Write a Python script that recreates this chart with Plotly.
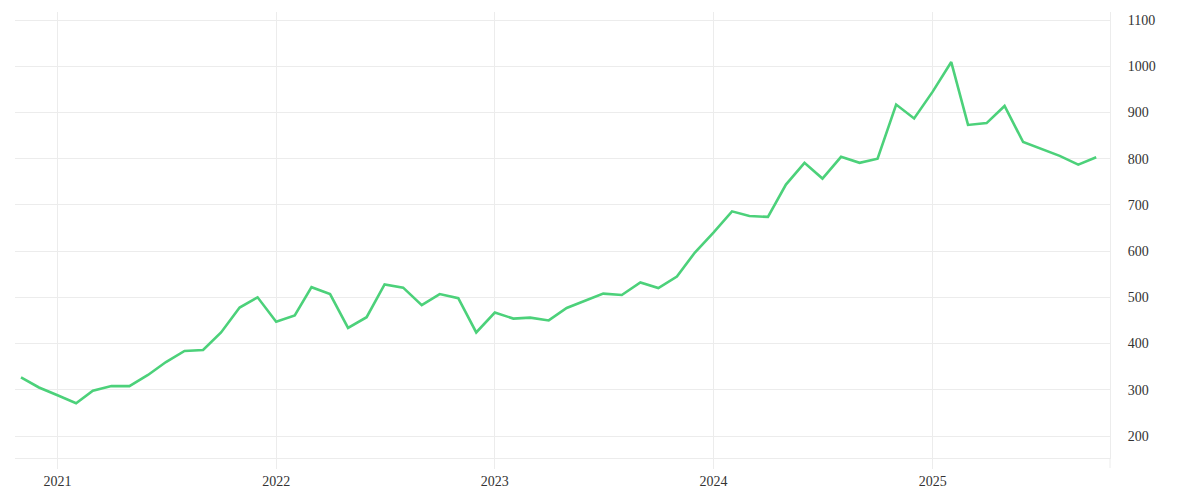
import plotly.graph_objects as go
import pandas as pd

# Monthly values, Nov 2020 - Oct 2025
dates = pd.date_range("2020-11-01", periods=60, freq="MS")
values = [
    327, 305,
    288, 271, 298, 308, 308, 332, 360, 384, 386, 424, 478, 500,
    447, 461, 522, 507, 434, 457, 528, 521, 483, 507, 498, 424,
    467, 454, 456, 450, 477, 492, 508, 505, 532, 520, 545, 597,
    640, 686, 676, 674, 744, 791, 757, 804, 791, 800, 917, 887,
    945, 1009, 873, 877, 914, 836, 821, 806, 787, 803,
]
year_ticks = ["2021-01-01", "2022-01-01", "2023-01-01", "2024-01-01", "2025-01-01"]
year_labels = ["2021", "2022", "2023", "2024", "2025"]
y_ticks = [200, 300, 400, 500, 600, 700, 800, 900, 1000, 1100]

FONT = "Liberation Serif"
GRID = "#ececec"

fig = go.Figure(
    go.Scatter(
        x=dates,
        y=values,
        mode="lines",
        line=dict(color="#4cd17a", width=2.6),
        hoverinfo="skip",
    )
)

# the page body adds an 8px offset, margins compensate for it
fig.update_layout(
    width=1200,
    height=500,
    margin=dict(l=7, r=98, t=4, b=50),
    paper_bgcolor="white",
    plot_bgcolor="white",
    showlegend=False,
    font=dict(family=FONT, size=14, color="#333333"),
    xaxis=dict(
        type="date",
        range=["2020-10-22", "2025-10-24"],
        tickvals=year_ticks,
        ticktext=year_labels,
        showgrid=True,
        gridcolor=GRID,
        gridwidth=1,
        ticks="outside",
        ticklen=10,
        tickcolor=GRID,
        showline=True,
        linecolor=GRID,
        linewidth=1,
        zeroline=False,
        tickfont=dict(family=FONT, size=14, color="#333333"),
    ),
    yaxis=dict(
        side="right",
        range=[152.4, 1117.3],
        tickvals=y_ticks,
        showgrid=True,
        gridcolor=GRID,
        gridwidth=1,
        showline=True,
        linecolor=GRID,
        linewidth=1,
        zeroline=False,
        ticks="",
        ticklabelstandoff=14,
        tickfont=dict(family=FONT, size=14, color="#333333"),
    ),
)

# extend the right border line down to the tick length, like the reference
fig.add_shape(
    type="line", xref="paper", yref="paper",
    x0=1, x1=1, y0=0, y1=-10 / 446,
    line=dict(color=GRID, width=1),
)

fig.write_html("out.html")
